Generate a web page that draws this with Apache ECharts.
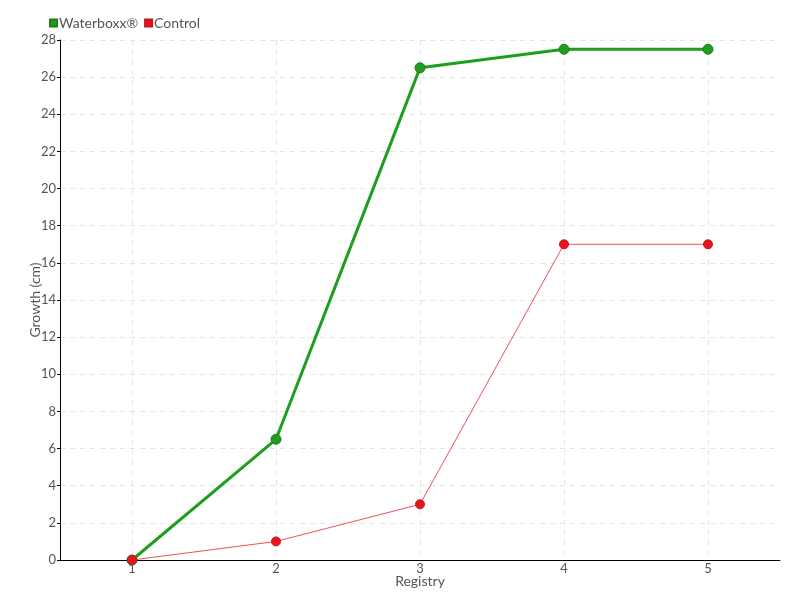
<!DOCTYPE html>
<html><head><meta charset="utf-8">
<script src="https://cdn.jsdelivr.net/npm/echarts@6/dist/echarts.min.js"></script>
<style>html,body{margin:0;padding:0;background:#fff}#c{width:800px;height:600px}</style>
</head><body><div id="c"></div>
<script>
const categories = ['1','2','3','4','5'];
const waterboxx = [0, 6.5, 26.5, 27.5, 27.5];
const control = [0, 1, 3, 17, 17];
const yTicks = {min:0, max:28, interval:2};

const font = 'Lato, "Liberation Sans Narrow", sans-serif';
const chart = echarts.init(document.getElementById('c'));
chart.setOption({
  animation:false,
  textStyle:{fontFamily:font},
  legend:{left:44, top:11, itemWidth:7, itemHeight:7, itemGap:6, icon:'rect',
    textStyle:{fontSize:14, color:'#555', fontFamily:font, padding:[0,0,0,-3]},
    data:['Waterboxx®','Control']},
  grid:{left:60, right:20, top:40, bottom:40, containLabel:false, outerBoundsMode:'none'},
  xAxis:{type:'category', data:categories, boundaryGap:true,
    name:'Registry', nameLocation:'middle', nameGap:14, nameMoveOverlap:false,
    nameTextStyle:{fontSize:14, color:'#555', fontFamily:font},
    axisLine:{lineStyle:{color:'#000'}},
    axisTick:{alignWithLabel:true, length:4, lineStyle:{color:'#000'}},
    axisLabel:{fontSize:13, color:'#555', margin:2, fontFamily:font},
    splitLine:{show:true, alignWithLabel:true, lineStyle:{color:'#e4e4e4', type:[5,5]}}
  },
  yAxis:{type:'value', min:yTicks.min, max:yTicks.max, interval:yTicks.interval,
    name:'Growth (cm)', nameLocation:'middle', nameGap:18, nameMoveOverlap:false,
    nameTextStyle:{fontSize:14, color:'#555', fontFamily:font},
    axisLine:{show:true, lineStyle:{color:'#000'}},
    axisTick:{show:true, length:3, lineStyle:{color:'#000'}},
    axisLabel:{fontSize:13, color:'#555', margin:4, fontFamily:font},
    splitLine:{show:true, lineStyle:{color:'#e4e4e4', type:[5,5]}}
  },
  series:[
    {name:'Waterboxx®', type:'line', data:waterboxx, symbol:'circle', symbolSize:10,
      itemStyle:{color:'#1e9e1e', borderColor:'#237a23', borderWidth:1},
      lineStyle:{color:'#1e9e1e', width:3}},
    {name:'Control', type:'line', data:control, symbol:'circle', symbolSize:9,
      itemStyle:{color:'#e8141e', borderColor:'#c8141e', borderWidth:1},
      lineStyle:{color:'#f0505a', width:1}}
  ]
});
</script></body></html>
